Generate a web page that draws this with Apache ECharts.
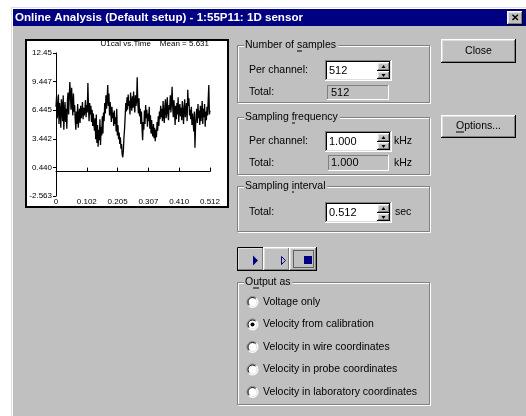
<!DOCTYPE html>
<html><head><meta charset="utf-8">
<script src="https://cdn.jsdelivr.net/npm/echarts@6/dist/echarts.min.js"></script>
<style>html,body{margin:0;padding:0;background:#fff}#c{width:526px;height:416px}</style>
</head><body><div id="c"></div>
<script>
// ---- data ----
const sampleStep = 0.002; // seconds between plotted samples
const signal = [
6.8,7.9,5.6,6.2,8.1,5.0,7.2,6.4,4.6,7.6,6.9,5.3,8.0,4.4,6.1,7.3,
5.2,6.6,4.5,7.4,8.3,6.0,7.7,9.4,8.0,6.5,8.8,7.1,5.9,8.2,6.3,7.0,
5.4,4.4,6.3,5.0,7.1,4.6,5.8,6.6,5.1,6.9,5.6,6.2,7.3,5.5,6.7,5.9,
6.4,7.5,5.7,7.0,6.2,9.3,6.8,5.3,7.2,6.0,6.9,5.2,6.5,4.8,6.1,5.0,
4.3,5.6,3.4,6.0,3.0,4.9,2.6,4.4,3.3,5.5,2.8,4.7,3.8,5.8,4.0,6.2,
5.3,7.2,6.1,8.0,6.6,7.6,9.1,6.9,8.2,5.9,7.3,6.4,5.2,6.8,5.6,6.2,
4.8,6.4,5.0,5.7,4.2,6.6,3.8,4.9,3.4,4.1,2.9,3.6,2.4,2.9,1.8,1.5,
2.2,3.6,4.5,5.8,7.2,6.3,7.8,6.5,8.1,6.9,7.4,6.0,8.3,7.0,6.4,7.9,
6.7,8.4,7.1,6.2,8.0,6.9,7.5,9.9,7.2,6.1,7.7,5.8,6.6,5.0,6.3,4.6,
3.3,5.2,4.4,6.4,5.0,7.0,5.6,6.5,4.7,6.1,5.3,6.8,4.5,5.9,4.0,5.4,
4.1,3.7,5.0,3.5,4.6,3.2,4.4,3.6,5.2,4.3,5.8,4.8,6.3,5.5,6.9,5.7,
6.6,5.3,7.4,6.0,5.1,6.9,7.6,5.6,6.3,7.8,6.1,5.4,7.0,6.5,8.0,6.2,
7.3,8.9,6.8,5.7,7.5,6.4,4.9,6.9,5.5,7.2,6.0,7.8,5.2,6.6,7.1,5.8,
6.7,5.4,7.4,6.2,5.0,6.8,7.6,5.7,6.4,7.2,5.3,8.6,6.9,7.7,5.9,6.5,
5.5,6.8,4.9,6.1,5.2,4.2,6.3,2.5,4.8,5.9,6.6,5.1,7.1,5.6,6.4,4.9,
6.9,5.3,6.2,7.4,5.0,6.6,5.7,7.1,4.7,6.3,5.4,6.8,5.9,7.5,9.1,6.0,
6.4
];
const xTickValues = [0, 0.1024, 0.2048, 0.3072, 0.4096, 0.512];
const xTickLabels = ['0', '0.102', '0.205', '0.307', '0.410', '0.512'];
const yTickValues = [12.45, 9.447, 6.445, 3.442, 0.440, -2.563];
const yTickLabels = ['12.45', '9.447', '6.445', '3.442', '0.440', '-2.563'];
const plotTitle = 'U1cal vs.Time    Mean = 5.631';
const dialogTitle = 'Online Analysis (Default setup) - 1:55P11: 1D sensor';
const radioLabels = ['Voltage only', 'Velocity from calibration', 'Velocity in wire coordinates',
  'Velocity in probe coordinates', 'Velocity in laboratory coordinates'];
const checkedRadio = 1;

// ---- drawing ----
const FF = "'Liberation Sans', Arial, sans-serif";
const UI = '10.5px ' + FF;
const GRAY = '#c0c0c0', DARK = '#808080', LIGHT = '#dfdfdf';
const mctx = document.createElement('canvas').getContext('2d');
function tw(s, font) { mctx.font = font; return mctx.measureText(s).width; }

const els = [];
function rect(x, y, w, h, fill, stroke, lw, extra) {
  els.push(Object.assign({ type: 'rect', silent: true, z: -1, shape: { x, y, width: w, height: h },
    style: { fill: fill || 'none', stroke: stroke || null, lineWidth: lw || 1 } }, extra || {}));
}
function ln(x1, y1, x2, y2, c) {
  els.push({ type: 'line', silent: true, z: -1, shape: { x1, y1, x2, y2 }, style: { stroke: c, lineWidth: 1 } });
}
function txt(s, x, y, opt) {
  opt = opt || {};
  els.push({ type: 'text', silent: true, z: -1, z2: 10, style: { text: s, x, y, font: opt.font || UI,
    fill: opt.fill || '#000', textAlign: opt.align || 'left', textVerticalAlign: 'middle' } });
}
function underline(s, idx, x, y, font, align) {
  font = font || UI;
  let x0 = x;
  if (align === 'center') x0 = x - tw(s, font) / 2;
  const a = x0 + tw(s.slice(0, idx), font), b = x0 + tw(s.slice(0, idx + 1), font);
  ln(Math.round(a), y + 5.5, Math.round(b), y + 5.5, '#000');
}
function raised(x, y, w, h) {
  rect(x, y, w, h, GRAY);
  ln(x, y + .5, x + w - 1, y + .5, '#fff');
  ln(x + .5, y, x + .5, y + h - 1, '#fff');
  ln(x + 1, y + 1.5, x + w - 2, y + 1.5, LIGHT);
  ln(x + 1.5, y + 1, x + 1.5, y + h - 2, LIGHT);
  ln(x, y + h - .5, x + w, y + h - .5, '#000');
  ln(x + w - .5, y, x + w - .5, y + h, '#000');
  ln(x + 1, y + h - 1.5, x + w - 1, y + h - 1.5, DARK);
  ln(x + w - 1.5, y + 1, x + w - 1.5, y + h - 1, DARK);
}
function sunken(x, y, w, h, fill) {
  rect(x, y, w, h, fill);
  ln(x, y + .5, x + w - 1, y + .5, DARK);
  ln(x + .5, y, x + .5, y + h - 1, DARK);
  ln(x + 1, y + 1.5, x + w - 2, y + 1.5, '#000');
  ln(x + 1.5, y + 1, x + 1.5, y + h - 2, '#000');
  ln(x, y + h - .5, x + w, y + h - .5, '#fff');
  ln(x + w - .5, y, x + w - .5, y + h, '#fff');
  ln(x + 1, y + h - 1.5, x + w - 1, y + h - 1.5, LIGHT);
  ln(x + w - 1.5, y + 1, x + w - 1.5, y + h - 1, LIGHT);
}
function flatSunken(x, y, w, h) {
  rect(x, y, w, h, GRAY);
  ln(x, y + .5, x + w - 1, y + .5, DARK);
  ln(x + .5, y, x + .5, y + h - 1, DARK);
  ln(x, y + h - .5, x + w, y + h - .5, '#fff');
  ln(x + w - .5, y, x + w - .5, y + h, '#fff');
}
function group(x, y, w, h, label, ul) {
  rect(x + 1.5, y + 1.5, w - 2, h - 2, null, '#fff');
  rect(x + .5, y + .5, w - 2, h - 2, null, DARK);
  const lw = tw(label, UI);
  rect(x + 7, y - 6, lw + 3, 12, GRAY);
  txt(label, x + 8, y + .5);
  if (ul != null) underline(label, ul, x + 8, y + .5);
}
function spinEdit(x, y, value) {
  sunken(x, y, 67, 21, '#fff');
  txt(value, x + 4, y + 10.5, { font: '11px ' + FF });
  raised(x + 52, y + 2, 13, 9);
  raised(x + 52, y + 11, 13, 8);
  els.push({ type: 'polygon', silent: true, z: -1, z2: 5, shape: { points: [[x + 56.5, y + 8], [x + 60.5, y + 8], [x + 58.5, y + 5]] }, style: { fill: '#000' } });
  els.push({ type: 'polygon', silent: true, z: -1, z2: 5, shape: { points: [[x + 56.5, y + 14], [x + 60.5, y + 14], [x + 58.5, y + 17]] }, style: { fill: '#000' } });
}

// page + dialog
rect(11, 7, 515, 409, GRAY);
ln(11.5, 7, 11.5, 416, LIGHT);
ln(11, 7.5, 526, 7.5, LIGHT);
ln(12.5, 8, 12.5, 416, '#fff');
ln(12, 8.5, 526, 8.5, '#fff');
rect(13, 9, 513, 17, '#000080');
txt(dialogTitle, 15, 17.5, { font: 'bold 11.6px ' + FF, fill: '#fff' });
raised(507, 11, 16, 14);
txt('✕', 515, 18, { font: 'bold 10px ' + FF, align: 'center' });

// chart panel
rect(25, 39, 204, 169, '#fff', null, 0, { z: -1 });
rect(26, 40, 202, 167, null, '#000', 2, { z: -1 });

// right side groups
group(237, 45, 194, 59, 'Number of samples', 10);
txt('Per channel:', 249, 70.5);
spinEdit(325, 60, '512');
txt('Total:', 249, 92.5);
flatSunken(327, 85, 62, 15);
txt('512', 331, 92.5, { font: '11px ' + FF, fill: '#000' });

group(237, 117, 194, 59, 'Sampling frequency', 9);
txt('Per channel:', 249, 141);
spinEdit(325, 131, '1.000');
txt('kHz', 394, 141);
txt('Total:', 249, 163);
flatSunken(328, 155, 61, 16);
txt('1.000', 331, 163, { font: '11px ' + FF });
txt('kHz', 394, 163);

group(237, 186, 194, 47, 'Sampling interval', 9);
txt('Total:', 249, 212.5);
spinEdit(325, 202, '0.512');
txt('sec', 395, 212.5);

raised(441, 39, 75, 24);
txt('Close', 478.5, 51, { align: 'center' });
raised(441, 115, 75, 23);
txt('Options...', 478.5, 126.5, { align: 'center' });
underline('Options...', 0, 478.5, 126.5, UI, 'center');

// transport buttons
raised(237, 247, 27, 24);
rect(237.5, 247.5, 26, 23, null, '#000');
els.push({ type: 'polygon', silent: true, z: -1, z2: 5, shape: { points: [[253, 255.5], [258, 260.5], [253, 265.5]] }, style: { fill: '#000080' } });
raised(263, 247, 27, 24);
els.push({ type: 'polygon', silent: true, z: -1, z2: 5, shape: { points: [[281.5, 256.5], [285.5, 260.5], [281.5, 264.5]] }, style: { fill: 'none', stroke: '#000080', lineWidth: 1 } });
raised(289, 247, 28, 24);
rect(293.5, 250.5, 20, 17, null, '#000', 1, { z2: 5 });
els[els.length - 1].style.lineDash = [1, 1];
rect(304, 256, 8, 8, '#000080', null, 0, { z2: 5 });

// output group
group(237, 282, 194, 124, 'Output as', 1);
const radioY = [302, 324.5, 347, 369.5, 392];
radioLabels.forEach((s, i) => {
  const cx = 252.5, cy = radioY[i];
  els.push({ type: 'circle', silent: true, z: -1, z2: 3, shape: { cx, cy, r: 5.5 }, style: { fill: '#fff' } });
  els.push({ type: 'arc', silent: true, z: -1, z2: 4, shape: { cx, cy, r: 5.5, startAngle: Math.PI * 0.75, endAngle: Math.PI * 1.75, clockwise: true }, style: { stroke: DARK, lineWidth: 1, fill: 'none' } });
  els.push({ type: 'arc', silent: true, z: -1, z2: 4, shape: { cx, cy, r: 4.5, startAngle: Math.PI * 0.75, endAngle: Math.PI * 1.75, clockwise: true }, style: { stroke: '#000', lineWidth: 1, fill: 'none' } });
  els.push({ type: 'arc', silent: true, z: -1, z2: 4, shape: { cx, cy, r: 5.5, startAngle: -Math.PI * 0.25, endAngle: Math.PI * 0.75, clockwise: true }, style: { stroke: '#fff', lineWidth: 1, fill: 'none' } });
  els.push({ type: 'arc', silent: true, z: -1, z2: 4, shape: { cx, cy, r: 4.5, startAngle: -Math.PI * 0.25, endAngle: Math.PI * 0.75, clockwise: true }, style: { stroke: LIGHT, lineWidth: 1, fill: 'none' } });
  if (i === checkedRadio) els.push({ type: 'circle', silent: true, z: -1, z2: 6, shape: { cx, cy, r: 2 }, style: { fill: '#000' } });
  txt(s, 263, cy);
});

const seriesData = signal.map((v, i) => [i * sampleStep, v]);
function lookup(vals, labels, v) {
  let best = 0;
  vals.forEach((t, i) => { if (Math.abs(t - v) < Math.abs(vals[best] - v)) best = i; });
  return labels[best];
}

const chart = echarts.init(document.getElementById('c'), null, { renderer: 'canvas' });
chart.setOption({
  animation: false,
  backgroundColor: '#fff',
  title: { text: plotTitle, right: 317, top: 40, padding: 0,
    textStyle: { fontFamily: FF, fontSize: 8, fontWeight: 'normal', color: '#000' } },
  grid: { left: 56, top: 53, width: 154, height: 143, containLabel: false },
  xAxis: {
    type: 'value', min: 0, max: 0.512,
    axisLine: { lineStyle: { color: '#000', width: 1 } },
    axisTick: { inside: true, length: 4, customValues: xTickValues, lineStyle: { color: '#000' } },
    axisLabel: { customValues: xTickValues, margin: 2, color: '#000', fontFamily: FF, fontSize: 8,
      formatter: v => lookup(xTickValues, xTickLabels, v) },
    splitLine: { show: false }
  },
  yAxis: {
    type: 'value', min: -2.563, max: 12.45,
    axisLine: { show: true, lineStyle: { color: '#000', width: 1 } },
    axisTick: { show: true, inside: false, length: 3, customValues: yTickValues, lineStyle: { color: '#000' } },
    axisLabel: { customValues: yTickValues, margin: 4, color: '#000', fontFamily: FF, fontSize: 8,
      formatter: v => lookup(yTickValues, yTickLabels, v) },
    splitLine: { show: false }
  },
  series: [{ type: 'line', data: seriesData, symbol: 'none', lineStyle: { color: '#000', width: 1.3 } }],
  graphic: { elements: els }
});
</script></body></html>
